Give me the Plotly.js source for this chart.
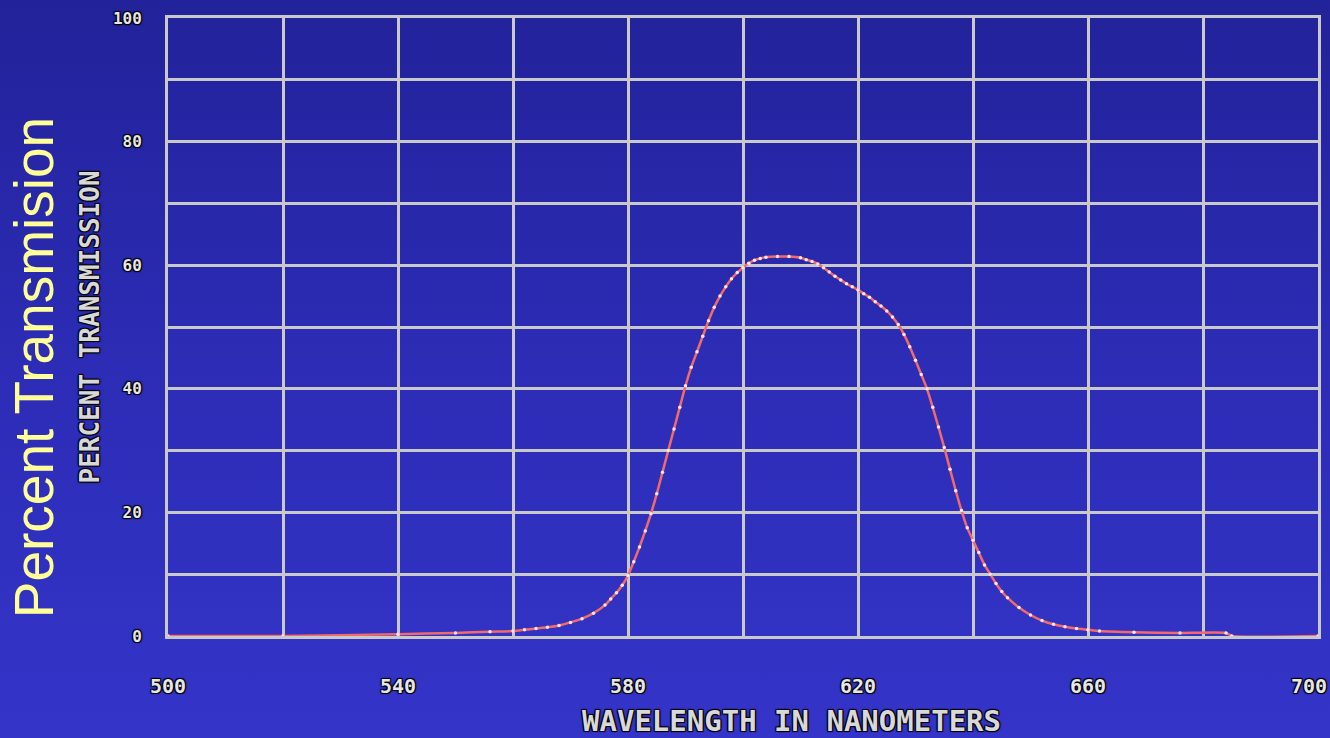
<!DOCTYPE html>
<html>
<head>
<meta charset="utf-8">
<script src="https://cdn.plot.ly/plotly-3.0.1.min.js"></script>
<style>
  html, body { margin: 0; padding: 0; }
  body { width: 1330px; height: 738px; background: linear-gradient(to bottom, #22229a 0%, #2c2cb6 50%, #3434c9 100%); }
  #chart { width: 1330px; height: 738px; }
</style>
</head>
<body>
<div id="chart"></div>
<script>
// Wavelength (nm) and percent transmission
const wavelength = [500, 520, 540, 550, 556, 560, 562, 564, 566, 568, 570, 572, 574, 576, 577, 578, 579, 580, 581, 582, 583, 584, 585, 586, 587, 588, 589, 590, 591, 592, 593, 594, 595, 596, 597, 598, 599, 600, 601, 602, 603, 604, 606, 608, 610, 611, 612, 613, 614, 615, 616, 617, 618, 619, 620, 621, 622, 623, 624, 625, 626, 627, 628, 629, 630, 631, 632, 633, 634, 635, 636, 637, 638, 639, 640, 641, 642, 643, 644, 645, 646, 648, 650, 652, 654, 656, 658, 660, 662, 668, 676, 684, 685, 700];
const transmission = [0, 0, 0.3, 0.5, 0.7, 0.8, 1.0, 1.2, 1.4, 1.7, 2.2, 2.8, 3.7, 5.0, 6.0, 7.0, 8.2, 9.8, 12.0, 14.4, 17.0, 19.8, 23, 26.5, 30, 33.5, 37, 40.5, 43.5, 46, 48.5, 51, 53.2, 55, 56.5, 57.8, 58.8, 59.6, 60.3, 60.8, 61.1, 61.3, 61.4, 61.4, 61.2, 60.9, 60.6, 60.2, 59.6, 58.9, 58.2, 57.6, 57.0, 56.5, 56, 55.4, 54.8, 54.1, 53.4, 52.6, 51.6, 50.4, 48.8, 46.8, 44.6, 42.3, 40, 37, 33.8, 30.5, 27, 23.5, 20.3, 17.5, 15.5, 13.5, 11.5, 10, 8.5, 7.2, 6.2, 4.6, 3.4, 2.5, 1.9, 1.5, 1.2, 1.0, 0.8, 0.6, 0.5, 0.5, 0, 0];
const xTickVals = [500, 520, 540, 560, 580, 600, 620, 640, 660, 680, 700];
const xTickText = ['500', '', '540', '', '580', '', '620', '', '660', '', '700'];
const yTickVals = [0, 10, 20, 30, 40, 50, 60, 70, 80, 90, 100];
const yTickText = ['0', '', '20', '', '40', '', '60', '', '80', '', '100'];

const shadow = '1px 1px 1px #000, -1px -1px 1px #000, 1px -1px 1px #000, -1px 1px 1px #000';
const mono = 'DejaVu Sans Mono, monospace';
const xTickFont = {family: mono, size: 20, color: '#e6e6e6', weight: 'bold', shadow: shadow};

// last x tick label is drawn as an annotation so it stays inside the page
const lastIdx = xTickVals.length - 1;
const shownTickText = xTickText.map((t, i) => (i === lastIdx ? '' : t));

const data = [
  {
    x: wavelength, y: transmission, type: 'scatter', mode: 'lines',
    line: {color: '#f26a6a', width: 2.5, shape: 'spline', smoothing: 0.5},
    hoverinfo: 'x+y', showlegend: false
  },
  {
    x: wavelength, y: transmission, type: 'scatter', mode: 'markers',
    marker: {color: '#ffe4e4', size: 3.5},
    hoverinfo: 'skip', showlegend: false
  }
];

const layout = {
  width: 1330, height: 738,
  paper_bgcolor: 'rgba(0,0,0,0)', plot_bgcolor: 'rgba(0,0,0,0)',
  margin: {l: 168, r: 12, t: 18, b: 102},
  xaxis: {
    range: [500, 700],
    tickvals: xTickVals, ticktext: shownTickText,
    showgrid: true, gridcolor: '#c9c9c9', gridwidth: 3,
    zeroline: false, showline: true, linecolor: '#c9c9c9', linewidth: 3, mirror: true,
    ticks: 'outside', ticklen: 30, tickcolor: 'rgba(0,0,0,0)',
    tickfont: xTickFont
  },
  yaxis: {
    range: [0, 100],
    tickvals: yTickVals, ticktext: yTickText,
    showgrid: true, gridcolor: '#c9c9c9', gridwidth: 3,
    zeroline: false, showline: true, linecolor: '#c9c9c9', linewidth: 3, mirror: true,
    ticks: 'outside', ticklen: 20, tickcolor: 'rgba(0,0,0,0)',
    tickfont: {family: mono, size: 16, color: '#e6e6e6', weight: 'bold', shadow: shadow},
    title: {text: 'PERCENT TRANSMISSION', standoff: 6,
      font: {family: mono, size: 26, color: '#d8d8d8', weight: 'bold', shadow: shadow}}
  },
  annotations: [
    {
      text: xTickText[lastIdx], xref: 'x', yref: 'paper',
      x: xTickVals[lastIdx], y: 0, xanchor: 'right', yanchor: 'top', xshift: 11, yshift: -36,
      showarrow: false, font: xTickFont
    },
    {
      text: 'WAVELENGTH IN NANOMETERS', xref: 'paper', yref: 'paper',
      x: 0.5426, y: -0.137, xanchor: 'center', yanchor: 'middle', showarrow: false,
      font: {family: mono, size: 29, color: '#d8d8d8', weight: 'bold', shadow: shadow}
    },
    {
      text: 'Percent Transmision', xref: 'paper', yref: 'paper',
      x: -0.117, y: 0.434, xanchor: 'center', yanchor: 'middle', showarrow: false,
      textangle: -90,
      font: {family: 'Liberation Sans, Arial, sans-serif', size: 55, color: '#ffff99'}
    }
  ]
};

Plotly.newPlot('chart', data, layout, {displayModeBar: false, staticPlot: true});
</script>
</body>
</html>
